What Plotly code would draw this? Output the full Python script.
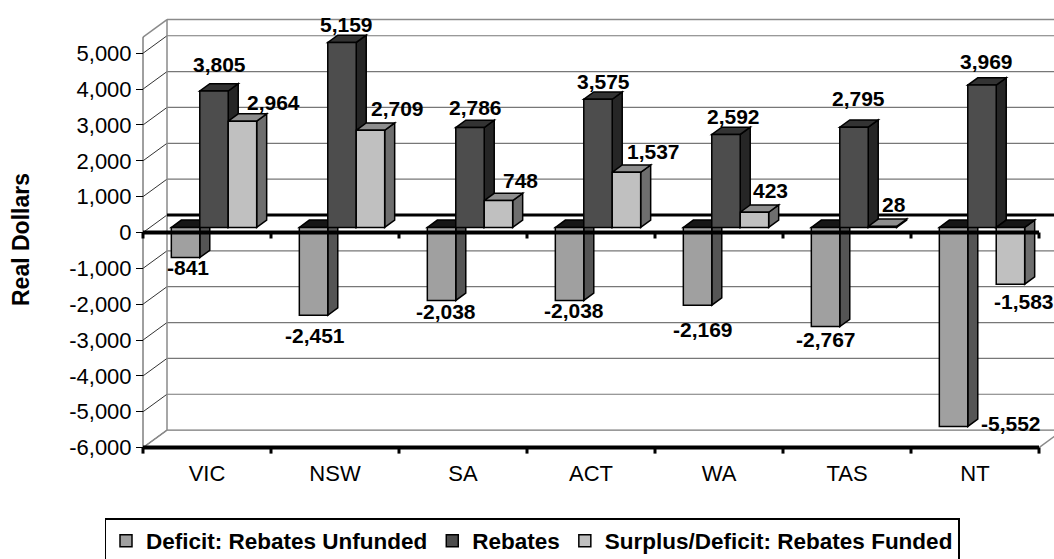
import plotly.graph_objects as go

# ---- data -------------------------------------------------------------
states = ["VIC", "NSW", "SA", "ACT", "WA", "TAS", "NT"]
deficit_unfunded = [-841, -2451, -2038, -2038, -2169, -2767, -5552]
rebates = [3805, 5159, 2786, 3575, 2592, 2795, 3969]
surplus_funded = [2964, 2709, 748, 1537, 423, 28, -1583]
series_names = ["Deficit: Rebates Unfunded", "Rebates", "Surplus/Deficit: Rebates Funded"]
y_ticks = list(range(-6000, 6000, 1000))
wall_top = 5450

# ---- styling ----------------------------------------------------------
FONT = "Liberation Sans, Arial, Helvetica, sans-serif"
FRONT = ["#A0A0A0", "#4D4D4D", "#C0C0C0"]
SIDE = ["#555555", "#262626", "#6E6E6E"]
TOP_POS = ["#7A7A7A", "#333333", "#8E8E8E"]
TOP_NEG = "#161616"

# label nudges in pixels (dx right, dy down) from the value end of each bar
label_nudge = [
    [(2, 10), (1, 20), (4, 11), (4, 10), (5, 24), (0, 13), (57, -3)],
    [(5, -26), (4, -18), (5, -20), (5.5, -18), (7, -18), (4, -29), (4, -24)],
    [(31, -19), (27, -22), (22, -20), (27, -21), (16, -22), (12, -22), (14, 17)],
]

# ---- geometry (pixel scale of the pseudo-3D frame) ---------------------
W, H = 1054, 559
CAT_PX = 128.0            # pixels per category
UNIT_PX = 0.03585         # pixels per dollar
X0_PX, Y0_PX = 143.0, 447.6   # front-left-bottom corner <-> (-0.5, -6000)
Y_MIN = y_ticks[0]

DEPTH_X, DEPTH_Y = 24 / CAT_PX, 17.5 / UNIT_PX        # wall depth
BAR_SHIFT_X, BAR_SHIFT_Y = 7 / CAT_PX, 5.1 / UNIT_PX  # bar front plane
BAR_DX, BAR_DY = 10 / CAT_PX, 7.3 / UNIT_PX           # bar depth
BAR_W = 1 / 4.5
PX_Y = 1 / UNIT_PX

PLOT_L, PLOT_R, PLOT_T, PLOT_B = 130, 1054, 12, 460


def x_at(px):
    return -0.5 + (px - X0_PX) / CAT_PX


def y_at(px):
    return Y_MIN + (Y0_PX - px) / UNIT_PX


x_range = [x_at(PLOT_L), x_at(PLOT_R)]
y_range = [y_at(PLOT_B), y_at(PLOT_T)]
n = len(states)
x_left, x_right = -0.5, n - 0.5
x_end = x_range[1] + 0.1

shapes = []


def line(x0, y0, x1, y1, color, width, layer="below"):
    shapes.append(dict(type="line", xref="x", yref="y", x0=x0, y0=y0, x1=x1, y1=y1,
                       line=dict(color=color, width=width), layer=layer))


# back wall gridlines and left side wall
for v in y_ticks:
    line(x_left + DEPTH_X, v + DEPTH_Y, x_end, v + DEPTH_Y, "#777777", 1.2)
    line(x_left, v, x_left + DEPTH_X, v + DEPTH_Y, "#333333", 1)
line(x_left + DEPTH_X, wall_top + DEPTH_Y, x_end, wall_top + DEPTH_Y, "#8A8A8A", 1.5)
line(x_left + DEPTH_X, Y_MIN + DEPTH_Y, x_left + DEPTH_X, wall_top + DEPTH_Y, "#8A8A8A", 1.5)
line(x_left, wall_top, x_left + DEPTH_X, wall_top + DEPTH_Y, "#8A8A8A", 1.5)
line(x_left, Y_MIN, x_left + DEPTH_X, Y_MIN + DEPTH_Y, "#8A8A8A", 1.5)
line(x_right, Y_MIN, x_right + DEPTH_X, Y_MIN + DEPTH_Y, "#8A8A8A", 1.5)
line(x_left, Y_MIN, x_left, wall_top, "#404040", 1)
# zero line on the back wall
line(x_left + DEPTH_X, DEPTH_Y, x_end, DEPTH_Y, "#000000", 3)

# side and top faces of every column
all_series = [deficit_unfunded, rebates, surplus_funded]
for i in range(n):
    for j, vals in enumerate(all_series):
        v = vals[i]
        c = i + BAR_SHIFT_X + (j - 1) * BAR_W
        x0, x1 = c - BAR_W / 2, c + BAR_W / 2
        b = BAR_SHIFT_Y
        e = b + v
        side = (f"M{x1},{b} L{x1 + BAR_DX},{b + BAR_DY} L{x1 + BAR_DX},{e + BAR_DY} "
                f"L{x1},{e} Z")
        shapes.append(dict(type="path", xref="x", yref="y", path=side, layer="below",
                           fillcolor=SIDE[j], line=dict(color="black", width=1.5)))
        t = b + max(v, 0)
        top = (f"M{x0},{t} L{x1},{t} L{x1 + BAR_DX},{t + BAR_DY} "
               f"L{x0 + BAR_DX},{t + BAR_DY} Z")
        shapes.append(dict(type="path", xref="x", yref="y", path=top, layer="below",
                           fillcolor=TOP_POS[j] if v > 0 else TOP_NEG,
                           line=dict(color="black", width=1.5)))

# front zero line and floor edge, with category tick marks
for base_v in (0, Y_MIN):
    line(x_left, base_v, x_right, base_v, "#000000", 4, layer="above")
    for k in range(n + 1):
        line(x_left + k, base_v, x_left + k, base_v - 6 * PX_Y, "#000000", 3, layer="above")

fig = go.Figure()
for j, vals in enumerate(all_series):
    fig.add_trace(go.Bar(
        name=series_names[j],
        x=[i + BAR_SHIFT_X + (j - 1) * BAR_W for i in range(n)],
        y=vals,
        base=BAR_SHIFT_Y,
        width=BAR_W,
        marker=dict(color=FRONT[j], line=dict(color="black", width=1.5)),
    ))

annotations = []
for j, vals in enumerate(all_series):
    for i, v in enumerate(vals):
        dx, dy = label_nudge[j][i]
        annotations.append(dict(
            x=i + BAR_SHIFT_X + (j - 1) * BAR_W, y=BAR_SHIFT_Y + v, xref="x", yref="y",
            text=f"{v:,}", showarrow=False, xanchor="center", yanchor="middle",
            xshift=dx, yshift=-dy,
            font=dict(family=FONT, size=21, color="black", weight="bold"),
        ))

annotations.append(dict(
    x=(21 - PLOT_L) / (PLOT_R - PLOT_L), y=(PLOT_B - 240) / (PLOT_B - PLOT_T),
    xref="paper", yref="paper", text="Real Dollars", textangle=-90, showarrow=False,
    xanchor="center", yanchor="middle",
    font=dict(family=FONT, size=23, color="black", weight="bold"),
))

fig.update_layout(
    width=W, height=H,
    margin=dict(l=PLOT_L, r=W - PLOT_R, t=PLOT_T, b=H - PLOT_B, autoexpand=False),
    paper_bgcolor="white", plot_bgcolor="white",
    barmode="overlay",
    showlegend=True,
    shapes=shapes,
    annotations=annotations,
    font=dict(family=FONT, color="black"),
    xaxis=dict(
        range=x_range, tickvals=list(range(n)), ticktext=states,
        showgrid=False, zeroline=False, showline=False, ticks="",
        ticklabelstandoff=-2,
        tickfont=dict(size=22, family=FONT, color="black"),
    ),
    yaxis=dict(
        range=y_range, tickvals=y_ticks, ticktext=[f"{v:,}" for v in y_ticks],
        showgrid=False, zeroline=False, showline=False,
        ticks="outside", ticklen=7, tickwidth=1, tickcolor="black",
        anchor="free", position=(X0_PX - PLOT_L) / (PLOT_R - PLOT_L),
        tickfont=dict(size=22, family=FONT, color="black"),
    ),
    legend=dict(
        orientation="h", xref="container", yref="container",
        x=532 / W, y=1 - 518 / H, xanchor="center", yanchor="top",
        bordercolor="black", borderwidth=1.5, bgcolor="white",
        font=dict(family=FONT, size=22.5, color="black", weight="bold"),
        traceorder="normal",
    ),
)

fig.write_html("out.html")
